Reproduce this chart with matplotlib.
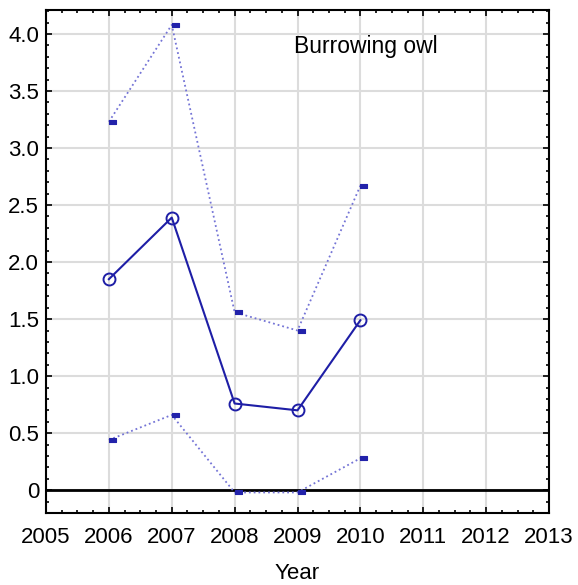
import matplotlib
matplotlib.use("Agg")
import matplotlib.pyplot as plt
from matplotlib.ticker import MultipleLocator, FuncFormatter

years = [2006, 2007, 2008, 2009, 2010]
mean_vals = [1.85, 2.39, 0.76, 0.70, 1.49]
upper_vals = [3.23, 4.08, 1.56, 1.40, 2.67]
lower_vals = [0.44, 0.66, -0.02, -0.02, 0.28]
x_ticks = [2005, 2006, 2007, 2008, 2009, 2010, 2011, 2012, 2013]
y_ticks = [0, 0.5, 1.0, 1.5, 2.0, 2.5, 3.0, 3.5, 4.0]
title_text = "Burrowing owl"
x_label = "Year"

plt.rcParams['font.family'] = ['Liberation Sans', 'DejaVu Sans']

fig = plt.figure(figsize=(5.78, 5.85), dpi=100)
ax = fig.add_axes([46/578, 1-513/585, (549-46)/578, (513-10)/585])

ax.set_xlim(2005, 2013)
ax.set_ylim(-0.2, 4.21)

ax.grid(True, which='major', color='#dcdcdc', linewidth=1.5, zorder=0)
ax.axhline(0, color='black', linewidth=2, zorder=2)

dash_marker = [(0, -0.25), (1, -0.25), (1, 0.25), (0, 0.25), (0, -0.25)]
line_c = '#1e1ea6'
dot_c = '#7474d6'

for vals in (upper_vals, lower_vals):
    ax.plot(years, vals, linestyle=':', color=dot_c, linewidth=1.3, zorder=3)
    ax.plot(years, vals, linestyle='none', marker=dash_marker, markersize=10,
            markerfacecolor='#2222aa', markeredgecolor='#2222aa',
            markeredgewidth=0.8, zorder=4)

ax.plot(years, mean_vals, color=line_c, linewidth=1.5, marker='o', markersize=8.6,
        markerfacecolor='none', markeredgecolor=line_c, markeredgewidth=1.4, zorder=5)

ax.text(2010.09, 3.89, title_text, fontsize=16.5, ha='center', va='center')

ax.set_xticks(x_ticks)
ax.set_yticks(y_ticks)
ax.xaxis.set_minor_locator(MultipleLocator(0.25))
ax.yaxis.set_minor_locator(MultipleLocator(0.1))
ax.yaxis.set_major_formatter(FuncFormatter(lambda v, p: '0' if abs(v) < 1e-9 else f'{v:.1f}'))

ax.tick_params(which='both', direction='in', top=True, right=True, labelsize=16, width=1.2)
ax.tick_params(which='major', length=4)
ax.tick_params(which='minor', length=2.5)
ax.tick_params(axis='x', which='major', pad=10)
ax.tick_params(axis='y', which='major', pad=5)

for s in ax.spines.values():
    s.set_linewidth(1.5)
    s.set_color('black')

ax.set_xlabel(x_label, fontsize=16, labelpad=11)

fig.savefig('out.png', dpi=100)
